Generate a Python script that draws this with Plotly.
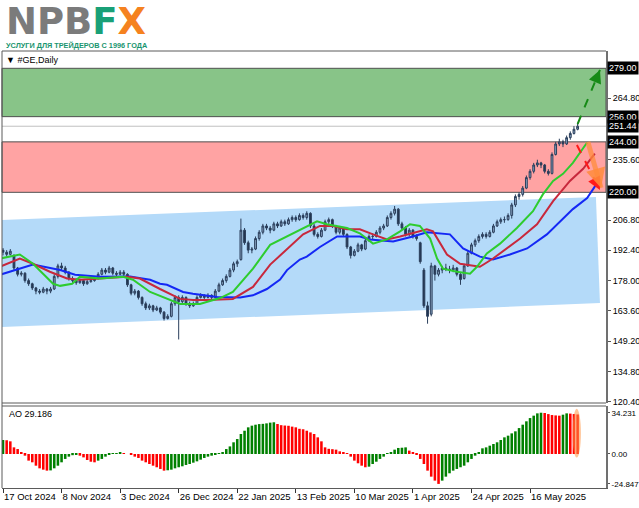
import plotly.graph_objects as go

# ---------------- data ----------------
date_labels = ["17 Oct 2024", "8 Nov 2024", "3 Dec 2024", "26 Dec 2024", "22 Jan 2025",
               "13 Feb 2025", "10 Mar 2025", "1 Apr 2025", "24 Apr 2025", "16 May 2025"]
date_label_idx = [0, 16, 32, 48, 64, 80, 96, 112, 128, 144]

opens = [192.5,191.5,190.5,190,184,181,181.5,178,176.5,174.5,173,172.5,174,173,174,180,185,184,182,179,
         178,177,178,176.5,177.5,178,179,181,183,182,184,181.5,181,182,181,176,172,173,170,167,
         165,166,164,165,163,160,161,167,170,168,170,167,166,167,170,171,170,171,170,173,
         176,178,180,183,186,188,202,196,192.5,193,198,201,204,203,202,205,204,206,205,207,
         208,207,209,208,210,204,200,199,202,206,207,204,201,203,200,194,190,192,195,193,
         197,199,199,201,203,204,208,210,212,205,203,200,202,199,196,183,166,162,185,181,
         183,184,183.5,183,184,181,179,185,191,195,197,199,200,199,201,204,206,207,207,209,
         214,218,219,222,227,230,233,234,233,230,229,238,243,244,243,246,248,250]
highs = [193.5,192.5,193,190.5,184.5,182.5,182,179,177,175,174,175,174.5,175,181,186,186.5,185,182.5,180,
         179,179,178.5,178.5,179,180,182,184,184,185,184.5,182.5,183,183,181.5,176.5,174,173.5,170.5,168,
         167,166.5,166,165.5,163.5,162,168,171,171,171,170.5,168,168,171,172,171.5,172,171.5,174,177,
         179,181,184,187,188,207.5,203,197,194,199,202,205,205,204,206,206,207,207,208,209,
         209,210,210,211,210.5,205,201,203,207,208,207.5,204.5,204,203.5,200.5,194.5,193,196,195.5,198,
         200,200.5,202,204,205,209,211,213.5,212.5,206,204,203,202.5,200,196.5,184,168,186.5,185.5,184,
         185,186,185,185.5,184.5,181.5,186,192,196,198,200,201,201,202,205,207,208,208.5,210,215,
         219,220,223,228,231,234,235.5,234.5,233.5,231,239,244,245.5,245,247,249,251.5,253]
lows = [190,189.5,190,183,180,180,177,175.5,173.5,171.5,171.5,172,171.5,172,173.5,179,183,181,178,177,
        176,176.5,175.5,176,177,177.5,178.5,180.5,181,181.5,180.5,180,180.5,180,175,171,171,169,166,164,
        164,163,163.5,162,159,159.5,160.5,166,150,167,166,165,165.5,166.5,169.5,169,169.5,169,169.5,172.5,
        175.5,177,179.5,182,184.5,187.5,195,191,191,192.5,197,200,202,200.5,201.5,203,203.5,204,204.5,206,
        206,206.5,207,207,203,199,198,198.5,201.5,205,203,200,200,199,193,188.5,189.5,191.5,192,192.5,
        196.5,197.5,198.5,200,202,203.5,207,209,204,202,199,199,198,197,186,165,157.5,161,178,180,
        181.5,182.5,181.5,182,180,176,178.5,184.5,190.5,194,196,198,198,198.5,200.5,203.5,205,205.5,206.5,207.5,
        213,216.5,218,221.5,226,229,232,231.5,229,228,228.5,237.5,242,241.5,242.5,245,247.5,249.5]
closes = [191.5,190.5,192,184,181,181.5,178,176.5,174.5,173,172.5,174,173,174,180,185,184,182,179,178,
          177,178,176.5,177.5,178,179,181,183,182,184,181.5,181,182,181,176,172,173,170,167,165,
          166,164,165,163,160,161,167,170,168,170,167,166,167,170,171,170,171,170,173,176,
          178,180,183,186,187,202,196,192.5,193,198,201,204,203,202,205,204,206,205,207,208,
          207,209,208,210,204,200,199,202,206,207,204,201,203,200,194,190,192,195,193,197,
          199,199,201,203,204,208,210,212,205,203,200,202,199,198,187,166,161,185,181,183,
          184,183.5,183,184,181,178.5,185,191,195,197,199,200,199,201,204,206,207,207,209,214,
          218,219,222,227,230,233,234,233,230,229,238,243,244,243,246,248,250,251.44]

ao_values = [11.6,11.4,10.5,5.5,4.1,1.4,-1.4,-5.5,-6.9,-9.7,-11.9,-13,-13.8,-13.6,-11.9,-9.7,-6.9,-4.1,-2.2,-1.0,
             -0.6,-1.4,-2.8,-5,-6.4,-6.9,-5.5,-4.1,-2.2,-0.8,0.4,0.7,0.9,0.6,0,-0.8,-2.2,-3.3,-5.5,-6.9,
             -8.3,-9.7,-11,-12.4,-13.8,-13.5,-13,-11.9,-11,-10.2,-9.1,-8.3,-7.2,-6.1,-4.7,-3.3,-2.2,-1.4,-0.6,0.2,
             1.4,4.1,6.3,9.7,12.4,16.6,19.3,22.1,23.5,24.3,24.8,25.0,25.4,26.0,26.3,24.9,23.9,23.6,23.4,22.7,
             22.1,20.9,20.5,19.3,17.9,16.6,13.8,10.5,5.5,4.3,4.0,3.6,2.2,1.4,0.2,-2.2,-5.5,-7.7,-9.7,-11,
             -10.5,-8.3,-6.4,-4.1,-2.2,0.1,1.4,3.6,5.0,5.2,5.5,2.8,1.4,-0.6,-4.1,-8.3,-13.8,-18.8,-22.1,-24.8,
             -22.1,-18.8,-16,-13.8,-12.4,-11,-9.7,-6.9,-4.1,-1.4,1.4,4.7,5.5,6.9,8.3,9.7,11.6,13.8,15.2,17.1,
             18.8,21.5,24.3,27.1,29.8,31.8,33.7,34.231,34.0,33.1,32.3,32.0,31.8,32.6,33.7,33.5,33.1,32.8]

# Alligator lines (at sample bars)
jaw_x = [-0.8,8.2,15.6,19.7,26.5,34.7,40.2,42.9,44.8,49.2,51.9,58.5,64.8,68.3,72.1,75.7,77.6,81.1,83,86.6,
         91.3,97.5,100.3,106.6,112,115.8,122.1,125.7,130.3,133.9,138.5,143.2,148.6,152.2,155.7,159.6,163.1]
jaw_y = [180.8,185.6,183,180.8,179.8,180,178.4,176.5,176,172.6,171.7,170.2,170,171,174,178.5,183,188,189.4,194,
         199,199,197.6,196.6,199,201,200,193.3,189.4,188,190.4,193.3,200,206.2,212,217.3,226.4]
teeth_x = [-0.8,4.6,8.2,12.8,17.5,21,33.9,37.4,42.9,48.4,51.9,55.7,62.8,68.3,73,77.6,82,86.6,90.2,94,
           97.5,101.1,104.9,108.5,112,115.8,117.5,121.3,124.9,130.3,133.9,137.7,141.3,145.9,150.3,154.9,158.5,161.7]
teeth_y = [184.6,188.5,186,182.2,179,178.4,179.8,179,174,169.3,168.8,168.8,169.3,175,185.6,192.8,200,204,204,202.4,
           202.4,200,197.6,199,200.5,202.4,201.4,190.4,186,184.6,188.5,193.3,198,204.8,215.8,225.4,231.2,238.4]
lips_x = [-0.8,4.6,8.2,10.9,13.7,15.6,18.9,21,26.5,32.8,35.5,40.2,44.8,48.4,53.8,59.3,62.8,68.3,73,77.6,
          82,85.8,88.5,94,97.5,101.1,104.9,108.5,111.2,113.9,116.7,118.6,120.2,124,127.6,129.5,132.2,135.8,140.4,144.8,
          147.5,150.3,153,155.7,159.6]
lips_y = [188.5,190.4,186,181.3,176.5,175.5,176.5,179.8,179,179.8,178.4,172.6,169.3,166.9,166.9,169.7,172.6,183.7,195,199,
          203,206.2,204.8,203,200.5,195.6,197.6,201.4,204.8,204,198,188.5,183.7,182.2,181.3,184.6,190.9,195.6,203,211,
          219,225.4,228.8,234,243.7]

# analyst markup
buy_zone = [256.0, 279.0]
sell_zone = [220.0, 244.0]
last_price = 251.44
label_levels = [279.00, 256.00, 251.44, 244.00, 220.00]
price_ticks = [264.80, 235.60, 206.80, 192.40, 178.00, 163.60, 149.20, 134.80, 120.40]
ao_ticks = [34.231, 0.0, -24.847]
channel_x = [-1.0, 162.0, 163.1, -1.0]
channel_y = [206.8, 217.8, 167.3, 155.9]
arrow_up_x = [157.0, 163.1]
arrow_up_y = [252.5, 278.2]
arrow_dn_x = [156.8, 163.1]
arrow_dn_y = [242.5, 221.1]
arrow_or_x = [159.8, 163.4]
arrow_or_y = [244.0, 222.1]
ao_mark_x = [155.6, 157.9]
ao_mark_y = [-3.0, 37.5]

# ---------------- figure ----------------
idx = list(range(len(closes)))
ao_colors = []
for i, v in enumerate(ao_values):
    if i == 0 or v > ao_values[i - 1]:
        ao_colors.append("#008000")
    else:
        ao_colors.append("#FF0000")

FONT = "Liberation Sans"
fig = go.Figure()

fig.add_trace(go.Candlestick(x=idx, open=opens, high=highs, low=lows, close=closes,
                             increasing=dict(line=dict(color="#2B3F5C", width=1), fillcolor="#8AA4C2"),
                             decreasing=dict(line=dict(color="#2B3F5C", width=1), fillcolor="#22344E"),
                             whiskerwidth=0, xaxis="x", yaxis="y"))

fig.add_trace(go.Scatter(x=jaw_x, y=jaw_y, mode="lines", line=dict(color="#1428F5", width=2),
                         xaxis="x", yaxis="y"))
fig.add_trace(go.Scatter(x=teeth_x, y=teeth_y, mode="lines", line=dict(color="#C8283C", width=2),
                         xaxis="x", yaxis="y"))
fig.add_trace(go.Scatter(x=lips_x, y=lips_y, mode="lines", line=dict(color="#2ECC2E", width=2),
                         xaxis="x", yaxis="y"))

# arrows (dashed stems)
fig.add_trace(go.Scatter(x=arrow_or_x, y=arrow_or_y, mode="lines",
                         line=dict(color="rgba(255,140,60,0.75)", width=5), xaxis="x", yaxis="y"))
fig.add_trace(go.Scatter(x=arrow_up_x, y=arrow_up_y, mode="lines",
                         line=dict(color="#178A17", width=2, dash="dash"), xaxis="x", yaxis="y"))
fig.add_trace(go.Scatter(x=arrow_dn_x, y=arrow_dn_y, mode="lines",
                         line=dict(color="#FF1A1A", width=2, dash="dash"), xaxis="x", yaxis="y"))

# AO
fig.add_trace(go.Bar(x=idx, y=ao_values, marker=dict(color=ao_colors, line=dict(width=0)),
                     xaxis="x2", yaxis="y2"))

shapes = []
shapes.append(dict(type="rect", xref="x domain", yref="y", x0=0, x1=1, y0=buy_zone[0], y1=buy_zone[1],
                   fillcolor="#88C488", line=dict(color="#505050", width=1), layer="below"))
shapes.append(dict(type="rect", xref="x domain", yref="y", x0=0, x1=1, y0=sell_zone[0], y1=sell_zone[1],
                   fillcolor="#FFA3A3", line=dict(color="#505050", width=1), layer="below"))
shapes.append(dict(type="line", xref="x domain", yref="y", x0=0, x1=1, y0=last_price, y1=last_price,
                   line=dict(color="#C0C0C0", width=1), layer="below"))
chan_path = "M " + " L ".join("%g,%g" % (a, b) for a, b in zip(channel_x, channel_y)) + " Z"
shapes.append(dict(type="path", xref="x", yref="y", path=chan_path, fillcolor="#B4DAF9",
                   line=dict(width=0), layer="below"))
shapes.append(dict(type="circle", xref="x2", yref="y2", x0=ao_mark_x[0], x1=ao_mark_x[1],
                   y0=ao_mark_y[0], y1=ao_mark_y[1], fillcolor="rgba(255,150,70,0.55)",
                   line=dict(width=0), layer="above"))
# panel borders
MAIN_BOT = (488 - 403) / 437
AO_TOP = (488 - 406) / 437
for yy in (1.0, MAIN_BOT, AO_TOP):
    shapes.append(dict(type="line", xref="paper", yref="paper", x0=0, x1=1, y0=yy, y1=yy,
                       line=dict(color="#5A5A5A", width=1)))
shapes.append(dict(type="line", xref="paper", yref="paper", x0=0, x1=0, y0=0, y1=1,
                   line=dict(color="#5A5A5A", width=1)))

annotations = []
# arrow heads
for xs, ys, col, w in ((arrow_up_x, arrow_up_y, "#178A17", 2), (arrow_dn_x, arrow_dn_y, "#FF1A1A", 2),
                       (arrow_or_x, arrow_or_y, "rgba(255,140,60,0.85)", 3)):
    annotations.append(dict(x=xs[1], y=ys[1], xref="x", yref="y",
                            ax=xs[0] + (xs[1] - xs[0]) * 0.8, ay=ys[0] + (ys[1] - ys[0]) * 0.8,
                            axref="x", ayref="y", showarrow=True, arrowhead=2, arrowsize=1.3,
                            arrowwidth=w, arrowcolor=col, text=""))
# highlighted price labels
for lv in label_levels:
    annotations.append(dict(x=1, xref="paper", y=lv, yref="y", xanchor="left", yanchor="middle",
                            xshift=1, text="%.2f" % lv, showarrow=False, bgcolor="#000000",
                            font=dict(family=FONT, size=9, color="#FFFFFF"), borderpad=1))
# header
annotations.append(dict(x=0.004, y=(488 - 21) / 437, xref="paper", yref="paper", xanchor="left",
                        yanchor="middle", showarrow=False, height=30, valign="middle",
                        text="<b><span style='color:#7B7B7B'>NPB</span><span style='color:#19A077'>F</span>"
                             "<span style='color:#F5821F'>X</span></b>",
                        font=dict(family="DejaVu Sans", size=37)))
annotations.append(dict(x=0.004, y=(488 - 45) / 437, xref="paper", yref="paper", xanchor="left",
                        yanchor="middle", showarrow=False,
                        text="<b>УСЛУГИ ДЛЯ ТРЕЙДЕРОВ С 1996 ГОДА</b>",
                        font=dict(family=FONT, size=7.3, color="#19956F")))
annotations.append(dict(x=0.004, y=(488 - 60) / 437, xref="paper", yref="paper", xanchor="left",
                        yanchor="middle", showarrow=False, text="▼ #GE,Daily",
                        font=dict(family=FONT, size=9, color="#000000")))
annotations.append(dict(x=0.008, y=(488 - 414) / 437, xref="paper", yref="paper", xanchor="left",
                        yanchor="middle", showarrow=False, text="AO 29.186",
                        font=dict(family=FONT, size=9, color="#000000")))

XR = [(2 - 3) / 3.66, (606 - 3) / 3.66]
fig.update_layout(
    width=639, height=508, margin=dict(l=2, r=33, t=51, b=20, autoexpand=False),
    paper_bgcolor="white", plot_bgcolor="white", showlegend=False,
    font=dict(family=FONT, size=9, color="#000000"),
    bargap=0.3,
    xaxis=dict(domain=[0, 1], anchor="y", range=XR, showticklabels=False, showgrid=False,
               zeroline=False, rangeslider=dict(visible=False), ticks="", automargin=False),
    yaxis=dict(domain=[MAIN_BOT, 1], anchor="x", side="right", range=[119.77, 287.23],
               tickvals=price_ticks, ticktext=["%.2f" % v for v in price_ticks],
               ticks="outside", ticklen=3, tickcolor="#555555", showgrid=False, zeroline=False,
               showline=True, linecolor="#707070", linewidth=2, automargin=False),
    xaxis2=dict(domain=[0, 1], anchor="y2", range=XR, matches="x", showgrid=False, zeroline=False,
                tickvals=date_label_idx, ticktext=date_labels, ticks="outside", ticklen=4,
                tickcolor="#333333", ticklabelposition="outside right", tickangle=0, showline=True,
                linecolor="#5A5A5A", linewidth=1, tickfont=dict(family=FONT, size=9.5), automargin=False),
    yaxis2=dict(domain=[0, AO_TOP], anchor="x2", side="right", range=[-28.2, 39.8],
                tickvals=ao_ticks, ticktext=["34.231", "0.00", "-24.847"],
                ticks="outside", ticklen=2, tickcolor="#555555", showgrid=False, zeroline=False,
                showline=True, linecolor="#707070", linewidth=2, automargin=False,
                tickfont=dict(family=FONT, size=8)),
    shapes=shapes, annotations=annotations,
)

fig.write_html("out.html", config={"displayModeBar": False},
               post_script="document.body.style.margin='0px';")
